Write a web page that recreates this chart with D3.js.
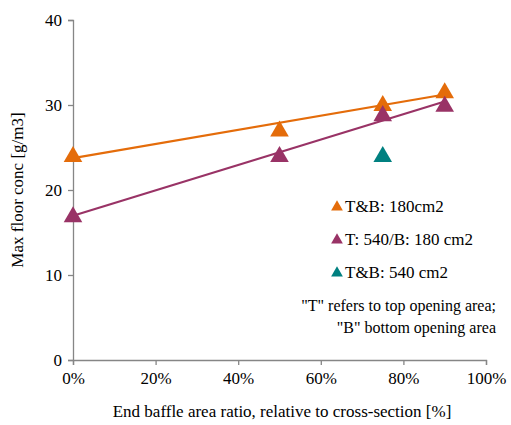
<!DOCTYPE html>
<html><head><meta charset="utf-8">
<script src="https://cdn.jsdelivr.net/npm/d3@7/dist/d3.min.js"></script>
</head>
<body style="margin:0">
<svg id="chart" width="511" height="425">
  <text id="xTitle" x="282" y="417" text-anchor="middle" font-family="Liberation Serif" font-size="17">End baffle area ratio, relative to cross-section [%]</text>
  <text id="yTitle" transform="translate(23,190) rotate(-90)" text-anchor="middle" font-family="Liberation Serif" font-size="17">Max floor conc [g/m3]</text>
  <g id="plot"></g>
</svg>
<script>
// Baffle area ratio (%) at each measured configuration
const ratios = [0, 50, 75, 90];
// Max floor concentration [g/m3] per opening configuration
const tb180 = [24.1, 27.1, 30.1, 31.6];
const t540b180 = [17.0, 24.1, 28.9, 30.0];
const tb540Ratio = [75];
const tb540 = [24.1];

const seriesNames = ["T&B: 180cm2", "T: 540/B: 180 cm2", "T&B: 540 cm2"];
const seriesColors = ["#e46c0a", "#993366", "#008080"];
const xTicks = [0, 20, 40, 60, 80, 100];
const yTicks = [0, 10, 20, 30, 40];
const noteLines = ["\"T\" refers to top opening area;", "\"B\" bottom opening area"];

const FONT = "Liberation Serif";
const axisColor = "#868686";

const x = d3.scaleLinear().domain([0, 100]).range([73, 486]);
const y = d3.scaleLinear().domain([0, 40]).range([360, 20]);

// Least-squares trend line
function fit(xs, ys) {
  const mx = d3.mean(xs), my = d3.mean(ys);
  let sxy = 0, sxx = 0;
  xs.forEach((v, i) => { sxy += (v - mx) * (ys[i] - my); sxx += (v - mx) * (v - mx); });
  const b = sxy / sxx;
  return { a: my - b * mx, b };
}

function draw() {
  const svg = d3.select("#plot");
  svg.selectAll("*").remove();

  // Axes
  const yAxis = svg.append("g").attr("transform", `translate(${x(0)},0)`)
    .call(d3.axisLeft(y).tickValues(yTicks).tickSize(5).tickPadding(6).tickFormat(d3.format("d")));
  const xAxis = svg.append("g").attr("transform", `translate(0,${y(0)})`)
    .call(d3.axisBottom(x).tickValues(xTicks).tickSize(5).tickPadding(7).tickFormat(d => d + "%"));

  [yAxis, xAxis].forEach(g => {
    g.attr("font-family", FONT).attr("font-size", 17);
    g.select(".domain").attr("stroke", axisColor).attr("stroke-width", 1.3);
    g.selectAll(".tick line").attr("stroke", axisColor).attr("stroke-width", 1.3);
    g.selectAll(".tick text").attr("fill", "#000");
  });

  const tri = d3.symbol().type(d3.symbolTriangle).size(150);

  function drawSeries(xs, ys, color, withTrend) {
    if (withTrend) {
      const f = fit(xs, ys);
      const x0 = d3.min(xs), x1 = d3.max(xs);
      svg.append("line")
        .attr("x1", x(x0)).attr("y1", y(f.a + f.b * x0))
        .attr("x2", x(x1)).attr("y2", y(f.a + f.b * x1))
        .attr("stroke", color).attr("stroke-width", 2.2);
    }
    svg.append("g").selectAll("path")
      .data(xs.map((v, i) => [v, ys[i]]))
      .join("path")
      .attr("d", tri)
      .attr("transform", d => `translate(${x(d[0])},${y(d[1]) + 1.5})`)
      .attr("fill", color);
  }

  drawSeries(ratios, tb180, seriesColors[0], true);
  drawSeries(ratios, t540b180, seriesColors[1], true);
  drawSeries(tb540Ratio, tb540, seriesColors[2], false);

  // Legend
  const legendTri = d3.symbol().type(d3.symbolTriangle).size(60);
  seriesNames.forEach((name, i) => {
    const ly = 206 + i * 33;
    svg.append("path").attr("d", legendTri)
      .attr("transform", `translate(337,${ly + 1})`)
      .attr("fill", seriesColors[i]);
    svg.append("text").attr("x", 345).attr("y", ly + 6)
      .attr("font-family", FONT).attr("font-size", 17).text(name);
  });

  // Note on abbreviations
  noteLines.forEach((t, i) => {
    svg.append("text").attr("x", 496).attr("y", 311 + i * 22)
      .attr("text-anchor", "end")
      .attr("font-family", FONT).attr("font-size", 16).text(t);
  });
}

draw();
if (document.fonts && document.fonts.ready) document.fonts.ready.then(draw);
</script>
</body></html>
